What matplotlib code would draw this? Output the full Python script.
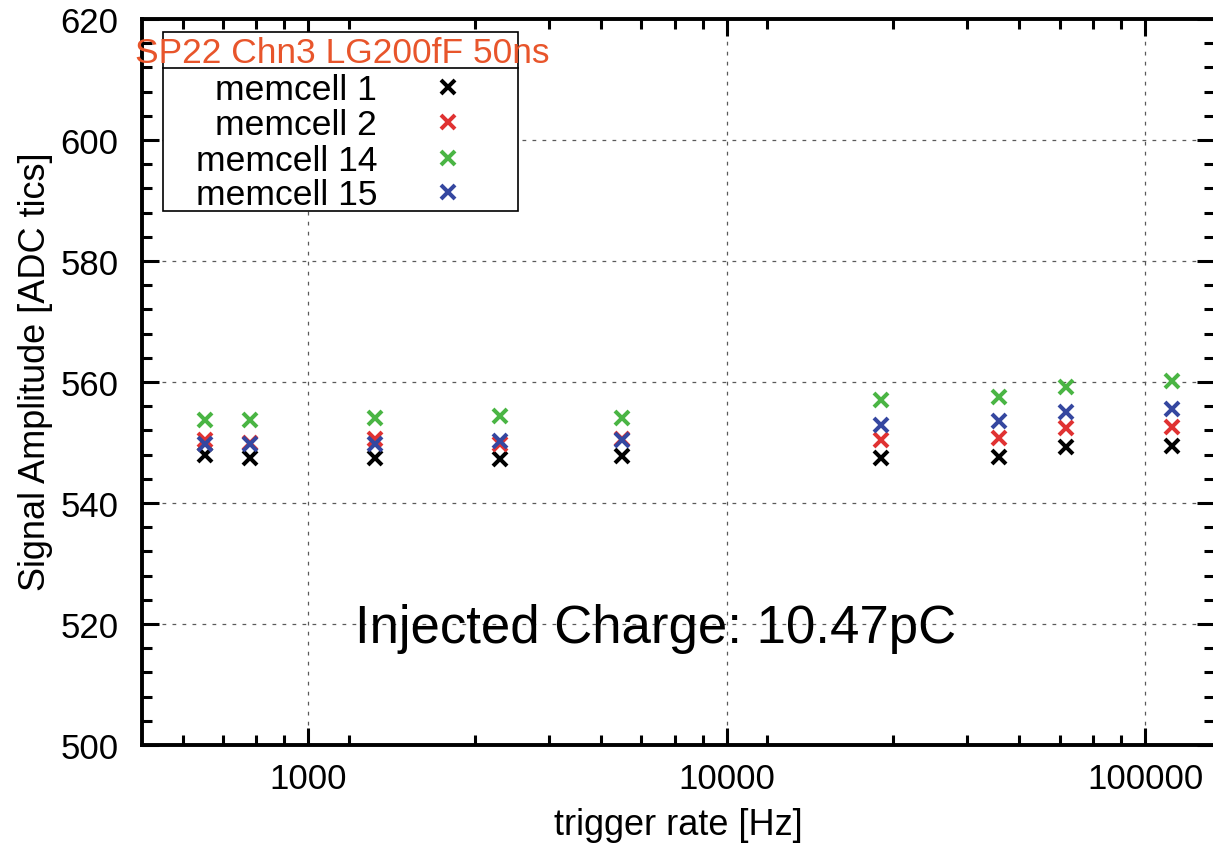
import numpy as np
from matplotlib import pyplot as plt
from matplotlib.patches import Rectangle
from matplotlib.ticker import FixedLocator, NullFormatter

plt.rcParams['font.family'] = ['Liberation Sans', 'DejaVu Sans']

# trigger rates [Hz]
rate = [567, 723, 1446, 2864, 5610, 23300, 44800, 64600, 116000]

# signal amplitude [ADC tics] per memory cell
memcell_1 = [547.9, 547.4, 547.5, 547.3, 547.7, 547.5, 547.6, 549.3, 549.4]
memcell_2 = [550.4, 550.0, 550.6, 549.8, 550.5, 550.4, 550.7, 552.4, 552.6]
memcell_14 = [553.8, 553.8, 554.0, 554.3, 554.0, 557.1, 557.6, 559.2, 560.2]
memcell_15 = [549.8, 549.7, 549.7, 550.2, 550.4, 552.9, 553.5, 555.1, 555.6]

labels = ['memcell 1', 'memcell 2', 'memcell 14', 'memcell 15']
colors = ['black', '#e03232', '#4ab544', '#3547a0']
series = [memcell_1, memcell_2, memcell_14, memcell_15]

W, H = 1213, 845
fig = plt.figure(figsize=(W / 100, H / 100), dpi=100)
# plot frame in pixels: left 142, right 1214 (just off canvas), top 20, bottom 746
ax = fig.add_axes([142 / W, 1 - 746 / H, (1214 - 142) / W, (746 - 20) / H])

for vals, col in zip(series, colors):
    ax.plot(rate, vals, ls='none', marker='x', ms=10, mew=2.9, color=col, zorder=3)

ax.set_xscale('log')
ax.set_xlim(400, 146000)
ax.set_ylim(500, 620)

# gnuplot style ticks: majors per decade, 8 linear minor steps
ax.xaxis.set_major_locator(FixedLocator([1000, 10000, 100000]))
ax.set_xticklabels(['1000', '10000', '100000'])
minor = []
for e in [3, 4, 5]:
    step = 10 ** e / 8
    for k in range(1, 8):
        v = k * step
        if v >= 400:
            minor.append(v)
ax.xaxis.set_minor_locator(FixedLocator(minor))
ax.xaxis.set_minor_formatter(NullFormatter())
ax.set_yticks(np.arange(500, 621, 20))
ax.yaxis.set_minor_locator(FixedLocator(np.arange(500, 621, 4)))

ax.tick_params(which='both', direction='in', top=True, right=True, width=2.2, labelsize=25)
ax.tick_params(which='major', length=12)
ax.tick_params(which='minor', length=7)
ax.tick_params(axis='y', pad=17)
ax.tick_params(axis='x', pad=12)

for s in ['left', 'bottom', 'top']:
    ax.spines[s].set_linewidth(2.8)
ax.spines['right'].set_visible(False)

ax.grid(True, which='major', color='0.35', lw=0.9, ls=(0, (3, 5)), zorder=1)

fig.text(678 / W, 1 - 835 / H, 'trigger rate [Hz]', ha='center', va='baseline', fontsize=26)
fig.text(45 / W, 1 - 372 / H, 'Signal Amplitude [ADC tics]', ha='center', va='baseline',
         rotation=90, rotation_mode='anchor', fontsize=26)

ax.text(0.4795, 0.1419, 'Injected Charge: 10.47pC', transform=ax.transAxes,
        ha='center', va='baseline', fontsize=38, zorder=4)


# key box in the upper left, drawn by hand to get gnuplot's layout
def px(x, y):
    return (x - 142) / 1072, (746 - y) / 726


x0, y0 = px(163, 212)
x1, y1 = px(518, 33)
ax.add_patch(Rectangle((x0, y0), x1 - x0, y1 - y0, transform=ax.transAxes,
                       facecolor='white', edgecolor='black', lw=1.2, zorder=5))
ax.plot([x0, x1], [px(0, 69)[1]] * 2, transform=ax.transAxes, color='black', lw=1.2, zorder=6)
tx, ty = px(342, 63)
ax.text(tx, ty, 'SP22 Chn3 LG200fF 50ns', transform=ax.transAxes, ha='center',
        va='baseline', fontsize=25.5, color='#e8552b', zorder=7)

baselines = [100, 135, 171, 205]
for lab, col, b in zip(labels, colors, baselines):
    lx, ly = px(377, b)
    ax.text(lx, ly, lab, transform=ax.transAxes, ha='right', va='baseline',
            fontsize=25.5, zorder=7)
    mx, my = px(448, b - 12)
    ax.plot([mx], [my], transform=ax.transAxes, ls='none', marker='x', ms=10,
            mew=2.9, color=col, zorder=7, clip_on=False)

fig.savefig('out.png', dpi=100)
